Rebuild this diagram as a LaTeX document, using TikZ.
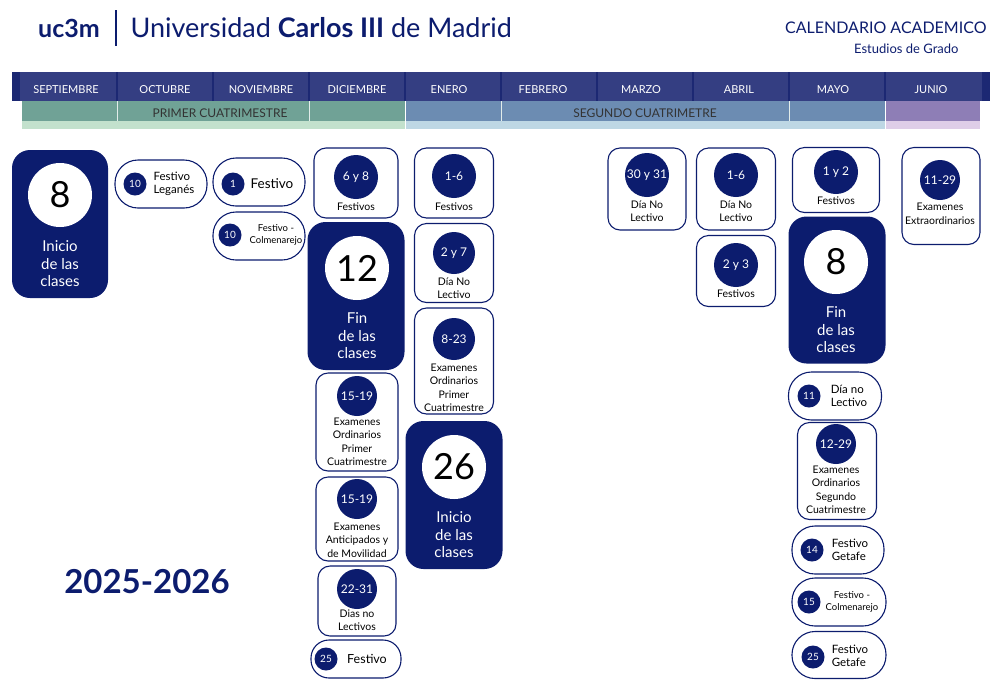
\documentclass[tikz,border=0pt]{standalone}
\usepackage{fontspec}
\setmainfont{Lato}
\usetikzlibrary{positioning}
\definecolor{ucnavy}{RGB}{12,28,110}
\definecolor{ucmonth}{RGB}{52,62,130}
\definecolor{ucedge}{RGB}{28,40,115}
\definecolor{ucgreen}{RGB}{112,162,150}
\definecolor{uclgreen}{RGB}{195,225,205}
\definecolor{ucblue}{RGB}{108,140,178}
\definecolor{uclblue}{RGB}{190,215,228}
\definecolor{ucpurple}{RGB}{142,126,182}
\definecolor{uclpurple}{RGB}{222,206,232}
\tikzset{
  card/.style={draw=ucnavy, line width=1.1pt, fill=white, rounded corners=12pt, inner sep=0pt},
  pill/.style={draw=ucnavy, line width=1.1pt, fill=white, rounded corners=23pt, inner sep=0pt},
  bigcard/.style={fill=ucnavy, rounded corners=18pt, inner sep=0pt},
  dot/.style={circle, fill=ucnavy, text=white, inner sep=0pt, font=\fontsize{12}{12}\selectfont},
  smalldot/.style={circle, fill=ucnavy, text=white, inner sep=0pt, minimum size=23pt, font=\fontsize{10}{10}\selectfont},
  bigdot/.style={circle, fill=white, inner sep=0pt, minimum size=64pt, font=\fontsize{36}{36}\selectfont},
  txt/.style={align=center, inner sep=0pt, font=\fontsize{10.5}{13.5}\selectfont},
  pilltxt/.style={align=left, inner sep=0pt, font=\fontsize{12}{14}\selectfont},
  bigtxt/.style={align=center, inner sep=0pt, text=white, font=\fontsize{15}{17.5}\selectfont},
  month/.style={text=white, font=\fontsize{11}{11}\selectfont}
}
\begin{document}
\begin{tikzpicture}[x=1pt, y=-1pt]
  \useasboundingbox (0,0) rectangle (1000,681);

  % Header
  \node[text=ucnavy, font=\fontsize{25}{25}\selectfont\bfseries] (logo) at (69,28) {uc3m};
  \draw[ucnavy, line width=1.2pt] (116,10) -- (116,46);
  \node[text=ucnavy, anchor=west, font=\fontsize{27}{27}\selectfont] (uni) at (127,28) {Universidad \textbf{Carlos III} de Madrid};
  \node[text=ucnavy, anchor=east, font=\fontsize{16}{16}\selectfont] (cal) at (990,28) {CALENDARIO ACADEMICO};
  \node[text=ucnavy, anchor=east, font=\fontsize{13}{13}\selectfont] (grado) at (962,49) {Estudios de Grado};

  % Month bar
  \fill[ucmonth] (12,72) rectangle (990,101);
  \fill[ucedge] (12,72) rectangle (20,101);
  \fill[ucedge] (982,72) rectangle (990,101);
  \foreach \x in {117,213,309,405,501,597,693,789,885}
    \draw[ucedge, line width=1.2pt] (\x,72) -- (\x,101);
  \foreach \x/\m in {66/SEPTIEMBRE,165/OCTUBRE,261/NOVIEMBRE,357/DICIEMBRE,449/ENERO,543/FEBRERO,641/MARZO,739/ABRIL,833/MAYO,931/JUNIO}
    \node[month] at (\x,90) {\m};

  % Semester bands
  \fill[ucgreen] (22,101) rectangle (405,121);
  \fill[ucblue] (405,101) rectangle (885,121);
  \fill[ucpurple] (885,101) rectangle (980,121);
  \fill[uclgreen] (22,121) rectangle (405,129);
  \fill[uclblue] (405,121) rectangle (885,129);
  \fill[uclpurple] (885,121) rectangle (980,129);
  \foreach \x in {117,309,501,789}
    \draw[white!80!ucgreen, line width=0.8pt] (\x,101) -- (\x,121);
  \draw[white, line width=1pt] (405,101) -- (405,129);
  \draw[white, line width=1pt] (885,101) -- (885,129);
  \node[font=\fontsize{12}{12}\selectfont, text=black!80] (primer) at (220,113) {PRIMER CUATRIMESTRE};
  \node[font=\fontsize{12}{12}\selectfont, text=black!80] (segundo) at (645,113) {SEGUNDO CUATRIMETRE};

  % Septiembre
  \node[bigcard, minimum width=96pt, minimum height=148pt] (sep8) at (60,224) {};
  \node[bigdot] (sep8n) at (60,195) {8};
  \node[bigtxt] (sep8t) at (60,264) {Inicio\\de las\\clases};

  % Octubre
  \node[pill, minimum width=92pt, minimum height=48pt] (oct10) at (161,184) {};
  \node[smalldot] (oct10n) at (135,184) {10};
  \node[pilltxt, font=\fontsize{11.5}{13}\selectfont] (oct10t) at (174,184) {Festivo\\Leganés};

  % Noviembre
  \node[pill, minimum width=92pt, minimum height=48pt] (nov1) at (259,182) {};
  \node[smalldot] (nov1n) at (233,184) {1};
  \node[pilltxt, font=\fontsize{13.5}{13.5}\selectfont] (nov1t) at (272,184) {Festivo};
  \node[pill, minimum width=92pt, minimum height=48pt] (nov10) at (259,236) {};
  \node[smalldot] (nov10n) at (230,235) {10};
  \node[pilltxt, align=center, font=\fontsize{9.5}{12}\selectfont] (nov10t) at (276,235) {Festivo -\\Colmenarejo};

  % Diciembre
  \node[card, minimum width=84pt, minimum height=70pt] (dic6) at (356,183) {};
  \node[dot, minimum size=44pt] (dic6n) at (356,177) {6 y 8};
  \node[txt] (dic6t) at (356,207) {Festivos};
  \node[bigcard, minimum width=97pt, minimum height=148pt] (dic12) at (356,296) {};
  \node[bigdot] (dic12n) at (357,268) {12};
  \node[bigtxt] (dic12t) at (357,336) {Fin\\de las\\clases};
  \node[card, minimum width=82pt, minimum height=98pt] (dic15) at (357,422) {};
  \node[dot, minimum size=40pt] (dic15n) at (357,396) {15-19};
  \node[txt] (dic15t) at (357,442) {Examenes\\Ordinarios\\Primer\\Cuatrimestre};
  \node[card, minimum width=82pt, minimum height=84pt] (dic15b) at (357,519) {};
  \node[dot, minimum size=40pt] (dic15bn) at (357,499) {15-19};
  \node[txt] (dic15bt) at (357,540) {Examenes\\Anticipados y\\de Movilidad};
  \node[card, minimum width=78pt, minimum height=70pt] (dic22) at (357,601) {};
  \node[dot, minimum size=40pt] (dic22n) at (357,589) {22-31};
  \node[txt] (dic22t) at (357,620) {Dias no\\Lectivos};
  \node[pill, minimum width=90pt, minimum height=38pt, rounded corners=18pt] (dic25) at (356,659) {};
  \node[smalldot] (dic25n) at (326,659) {25};
  \node[pilltxt, font=\fontsize{12.5}{12.5}\selectfont] (dic25t) at (367,659) {Festivo};

  % Enero
  \node[card, minimum width=79pt, minimum height=70pt] (ene1) at (454,183) {};
  \node[dot, minimum size=44pt] (ene1n) at (454,176) {1-6};
  \node[txt] (ene1t) at (454,207) {Festivos};
  \node[card, minimum width=79pt, minimum height=79pt] (ene2) at (454,263) {};
  \node[dot, minimum size=42pt] (ene2n) at (454,253) {2 y 7};
  \node[txt] (ene2t) at (454,288) {Día No\\Lectivo};
  \node[card, minimum width=79pt, minimum height=106pt] (ene8) at (454,361) {};
  \node[dot, minimum size=42pt] (ene8n) at (454,339) {8-23};
  \node[txt] (ene8t) at (454,388) {Examenes\\Ordinarios\\Primer\\Cuatrimestre};
  \node[bigcard, minimum width=97pt, minimum height=148pt] (ene26) at (454,495) {};
  \node[bigdot] (ene26n) at (454,467) {26};
  \node[bigtxt] (ene26t) at (454,535) {Inicio\\de las\\clases};

  % Marzo
  \node[card, minimum width=78pt, minimum height=82pt] (mar30) at (647,189) {};
  \node[dot, minimum size=44pt] (mar30n) at (647,175) {30 y 31};
  \node[txt] (mar30t) at (647,211) {Día No\\Lectivo};

  % Abril
  \node[card, minimum width=79pt, minimum height=82pt] (abr1) at (736,189) {};
  \node[dot, minimum size=44pt] (abr1n) at (736,175) {1-6};
  \node[txt] (abr1t) at (736,211) {Día No\\Lectivo};
  \node[card, minimum width=79pt, minimum height=71pt] (abr2) at (736,271) {};
  \node[dot, minimum size=44pt] (abr2n) at (736,265) {2 y 3};
  \node[txt] (abr2t) at (736,294) {Festivos};

  % Mayo
  \node[card, minimum width=87pt, minimum height=65pt] (may1) at (836,180) {};
  \node[dot, minimum size=44pt] (may1n) at (836,172) {1 y 2};
  \node[txt] (may1t) at (836,201) {Festivos};
  \node[bigcard, minimum width=97pt, minimum height=147pt] (may8) at (837,290) {};
  \node[bigdot] (may8n) at (836,262) {8};
  \node[bigtxt] (may8t) at (836,330) {Fin\\de las\\clases};
  \node[pill, minimum width=93pt, minimum height=48pt] (may11) at (835,396) {};
  \node[smalldot] (may11n) at (809,396) {11};
  \node[pilltxt, font=\fontsize{11.5}{13}\selectfont] (may11t) at (849,396) {Día no\\Lectivo};
  \node[card, minimum width=79pt, minimum height=97pt] (may12) at (837,471) {};
  \node[dot, minimum size=40pt] (may12n) at (836,444) {12-29};
  \node[txt] (may12t) at (836,490) {Examenes\\Ordinarios\\Segundo\\Cuatrimestre};
  \node[pill, minimum width=92pt, minimum height=48pt] (may14) at (838,550) {};
  \node[smalldot] (may14n) at (812,550) {14};
  \node[pilltxt, font=\fontsize{11.5}{13}\selectfont] (may14t) at (850,550) {Festivo\\Getafe};
  \node[pill, minimum width=94pt, minimum height=48pt] (may15) at (839,602) {};
  \node[smalldot] (may15n) at (809,602) {15};
  \node[pilltxt, align=center, font=\fontsize{9.5}{12}\selectfont] (may15t) at (852,602) {Festivo -\\Colmenarejo};
  \node[pill, minimum width=94pt, minimum height=47pt] (may25) at (839,655) {};
  \node[smalldot] (may25n) at (813,657) {25};
  \node[pilltxt, font=\fontsize{11.5}{13}\selectfont] (may25t) at (850,656) {Festivo\\Getafe};

  % Junio
  \node[card, minimum width=78pt, minimum height=97pt] (jun11) at (941,196) {};
  \node[dot, minimum size=40pt] (jun11n) at (940,180) {11-29};
  \node[txt] (jun11t) at (940,214) {Examenes\\Extraordinarios};

  % Year
  \node[text=ucnavy, font=\fontsize{33}{33}\selectfont\bfseries] (year) at (147,582) {2025-2026};
\end{tikzpicture}
\end{document}
